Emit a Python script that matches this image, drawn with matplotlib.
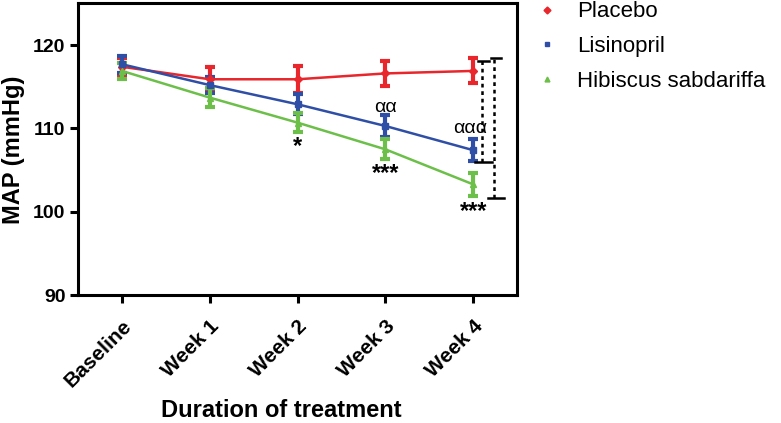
import matplotlib
matplotlib.use("Agg")
import matplotlib.pyplot as plt

plt.rcParams["font.family"] = ["Liberation Sans", "DejaVu Sans"]

semanas = ["Baseline", "Week 1", "Week 2", "Week 3", "Week 4"]
placebo = [117.4, 115.9, 115.9, 116.6, 116.9]
placebo_err = [1.0, 1.5, 1.6, 1.5, 1.5]
lisinopril = [117.7, 115.2, 112.9, 110.3, 107.4]
lisinopril_err = [1.0, 1.0, 1.2, 1.3, 1.3]
hibiscus = [116.9, 113.7, 110.7, 107.5, 103.3]
hibiscus_err = [1.0, 1.1, 1.1, 1.2, 1.4]

series = [
    ("Placebo", placebo, placebo_err, "#e8262b", "D"),
    ("Lisinopril", lisinopril, lisinopril_err, "#2f4fa6", "s"),
    ("Hibiscus sabdariffa", hibiscus, hibiscus_err, "#6cbf48", "^"),
]

fig = plt.figure(figsize=(7.81, 4.23), dpi=100)
ax = fig.add_axes([0.1, 0.302, 0.562, 0.69])

x = list(range(len(semanas)))
for nombre, vals, err, color, mk in series:
    ax.errorbar(x, vals, yerr=err, color=color, lw=1.8, elinewidth=3,
                capsize=3.5, capthick=3, marker=mk, markersize=4, label=nombre)

# corchetes de significancia (punteados)
for xv, top, bot, x0, x1 in [(4.10, 118.05, 106.0, 4.02, 4.21), (4.24, 118.4, 101.7, 4.17, 4.35)]:
    ax.plot([xv, xv], [bot, top], color="black", lw=1.8, ls=(0, (1.5, 1.5)))
    ax.plot([x0 + 0.03, x1 - 0.03], [top, top], color="black", lw=1.8)
    ax.plot([x0, x1], [bot, bot], color="black", lw=1.8)

ax.text(2, 107.8, "*", ha="center", va="center", fontsize=17, fontweight="bold")
ax.text(3, 104.55, "***", ha="center", va="center", fontsize=17, fontweight="bold")
ax.text(4, 100.0, "***", ha="center", va="center", fontsize=17, fontweight="bold")
ax.text(3, 112.5, "αα", ha="center", va="center", fontsize=14)
ax.text(3.97, 110.0, "ααα", ha="center", va="center", fontsize=14)

ax.set_xlim(-0.5, 4.5)
ax.set_ylim(90, 125)
ax.set_yticks([90, 100, 110, 120])
ax.set_xticks(x)
ax.set_xticklabels(semanas, rotation=45, ha="right", rotation_mode="anchor",
                   fontsize=15, fontweight="bold")
for lab in ax.get_yticklabels():
    lab.set_fontsize(14)
    lab.set_fontweight("bold")
ax.tick_params(width=2.2, length=6, pad=3)
ax.tick_params(axis="x", pad=9)
for sp in ax.spines.values():
    sp.set_linewidth(2.2)

ax.set_ylabel("MAP (mmHg)", fontsize=17, fontweight="bold", labelpad=6)
ax.set_xlabel("Duration of treatment", fontsize=17, fontweight="bold")
ax.xaxis.set_label_coords(0.462, -0.357)

handles = [plt.Line2D([], [], color=c, marker=m, ls="none", markersize=3.5)
           for _, _, _, c, m in series]
ax.legend(handles, [s[0] for s in series], loc="upper left", bbox_to_anchor=(0.985, 1.075),
          frameon=False, fontsize=16, handletextpad=0.6, labelspacing=0.62,
          handlelength=1.5)

fig.savefig("out.png", dpi=100)
